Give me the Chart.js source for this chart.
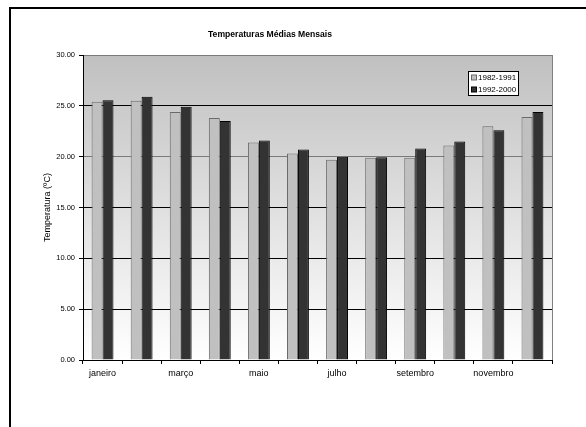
<!DOCTYPE html>
<html>
<head>
<meta charset="utf-8">
<title>Temperaturas Médias Mensais</title>
<script src="https://cdn.jsdelivr.net/npm/chart.js@4/dist/chart.umd.min.js"></script>
<style>
  html, body { margin: 0; padding: 0; background: #ffffff; }
  #wrap { position: relative; width: 586px; height: 427px; overflow: hidden; }
  canvas { display: block; }
</style>
</head>
<body>
<div id="wrap"><canvas id="c" width="586" height="427"></canvas></div>
<script>
// Monthly categories
const months = ['janeiro', 'fevereiro', 'março', 'abril', 'maio', 'junho',
                'julho', 'agosto', 'setembro', 'outubro', 'novembro', 'dezembro'];

// Mean monthly temperature (ºC) per period
const period1Label = '1982-1991';
const period1 = [25.4, 25.5, 24.4, 23.8, 21.4, 20.3, 19.7, 19.9, 19.9, 21.1, 23.0, 23.9];
const period2Label = '1992-2000';
const period2 = [25.55, 25.9, 24.9, 23.5, 21.6, 20.7, 20.0, 19.95, 20.8, 21.5, 22.6, 24.4];

// Value axis ticks
const yTicks = [0, 5, 10, 15, 20, 25, 30];

const chartTitle = 'Temperaturas Médias Mensais';
const yAxisTitle = 'Temperatura (ºC)';

const FONT = '"Liberation Sans", Arial, sans-serif';

// Grey gradient behind the plot, plus borders, frame, title and legend box
const decorations = {
  id: 'decorations',
  beforeDraw(chart) {
    const { ctx, chartArea: a } = chart;
    ctx.save();
    const g = ctx.createLinearGradient(0, a.top, 0, a.bottom);
    g.addColorStop(0, '#c0c0c0');
    g.addColorStop(1, '#ffffff');
    ctx.fillStyle = g;
    ctx.fillRect(a.left, a.top, a.right - a.left, a.bottom - a.top);
    ctx.restore();
  },
  afterDraw(chart) {
    const { ctx, chartArea: a } = chart;
    ctx.save();
    // right edge of the plot
    ctx.strokeStyle = '#808080';
    ctx.lineWidth = 1;
    ctx.beginPath();
    ctx.moveTo(Math.round(a.right) + 0.5, a.top);
    ctx.lineTo(Math.round(a.right) + 0.5, a.bottom);
    ctx.stroke();

    // outer frame
    ctx.strokeStyle = '#000000';
    ctx.lineWidth = 2;
    ctx.strokeRect(10, 8, 700, 600);

    // title
    ctx.fillStyle = '#000000';
    ctx.font = 'bold 8.6px ' + FONT;
    ctx.textAlign = 'center';
    ctx.textBaseline = 'middle';
    ctx.fillText(chartTitle, 270, 35);

    // legend box
    const bx = 468.5, by = 71.5, bw = 50, bh = 24;
    ctx.fillStyle = '#ffffff';
    ctx.fillRect(bx, by, bw, bh);
    ctx.strokeStyle = '#000000';
    ctx.lineWidth = 1;
    ctx.strokeRect(bx, by, bw, bh);
    ctx.font = '8px ' + FONT;
    ctx.textAlign = 'left';
    chart.data.datasets.forEach((ds, i) => {
      const cy = by + 6 + i * 12;
      ctx.fillStyle = ds.backgroundColor;
      ctx.fillRect(471.5, cy - 2.5, 5, 5);
      ctx.strokeStyle = ds.borderColor;
      ctx.strokeRect(471.5, cy - 2.5, 5, 5);
      ctx.fillStyle = '#000000';
      ctx.fillText(ds.label, 478, cy + 0.5);
    });
    ctx.restore();
  }
};

new Chart(document.getElementById('c'), {
  type: 'bar',
  data: {
    labels: months,
    datasets: [
      {
        label: period1Label,
        data: period1,
        backgroundColor: '#c0c0c0',
        borderColor: '#6a6a6a',
        borderWidth: 1,
        borderSkipped: 'bottom'
      },
      {
        label: period2Label,
        data: period2,
        backgroundColor: '#333333',
        borderColor: '#000000',
        borderWidth: 1,
        borderSkipped: 'bottom'
      }
    ]
  },
  options: {
    responsive: false,
    animation: false,
    devicePixelRatio: 1,
    layout: { padding: { left: 0, right: 34, top: 55, bottom: 37 } },
    categoryPercentage: 0.56,
    barPercentage: 1.0,
    plugins: {
      legend: { display: false },
      title: { display: false },
      tooltip: { enabled: false }
    },
    scales: {
      x: {
        grid: {
          offset: true,
          drawOnChartArea: false,
          drawTicks: true,
          tickLength: 4,
          tickColor: '#000000'
        },
        border: { color: '#000000', width: 1 },
        ticks: {
          autoSkip: false,
          maxRotation: 0,
          padding: 4,
          color: '#000000',
          font: { family: FONT, size: 9 },
          callback: (v, i) => (i % 2 === 0 ? months[i] : '')
        },
        afterFit(scale) { scale.height = 30; }
      },
      y: {
        min: 0,
        max: 30,
        afterBuildTicks(scale) { scale.ticks = yTicks.map(v => ({ value: v })); },
        grid: {
          color: ctx => {
            const v = ctx.tick && ctx.tick.value;
            return (v === 20 || v === 30) ? '#7a7a7a' : '#000000';
          },
          tickColor: '#000000',
          tickLength: 4,
          lineWidth: 1
        },
        border: { color: '#000000', width: 1 },
        ticks: {
          padding: 4,
          color: '#000000',
          font: { family: FONT, size: 7.5 },
          callback: v => Number(v).toFixed(2)
        },
        title: {
          display: true,
          text: yAxisTitle,
          color: '#000000',
          font: { family: FONT, size: 9 },
          padding: { top: 42, bottom: 0 }
        },
        afterFit(scale) { scale.width = 83; }
      }
    }
  },
  plugins: [decorations]
});
</script>
</body>
</html>
